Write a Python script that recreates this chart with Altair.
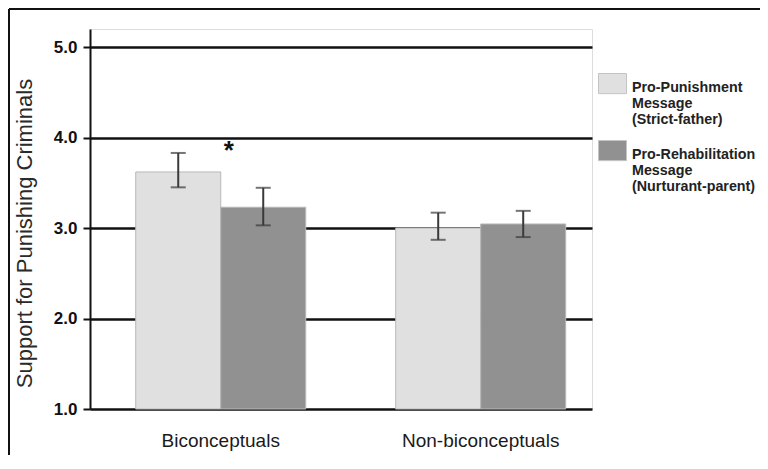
import altair as alt
import pandas as pd

groups = ["Biconceptuals", "Biconceptuals", "Non-biconceptuals", "Non-biconceptuals"]
messages = ["Pro-Punishment|Message|(Strict-father)", "Pro-Rehabilitation|Message|(Nurturant-parent)"]
message_col = [messages[0], messages[1], messages[0], messages[1]]
means = [3.62, 3.23, 3.00, 3.045]
lows = [3.45, 3.03, 2.87, 2.90]
highs = [3.83, 3.445, 3.17, 3.19]
y_ticks = [1, 2, 3, 4, 5]

df = pd.DataFrame({"group": groups, "message": message_col, "mean": means, "lo": lows, "hi": highs})
star_df = pd.DataFrame({"group": ["Biconceptuals"], "y": [3.76], "t": ["*"]})

FONT = "Liberation Sans"
TITLE = "Support for Punishing Criminals"

xenc = alt.X("group:N", title=None,
             scale=alt.Scale(paddingInner=0.346, paddingOuter=0.1385, align=0.635),
             axis=alt.Axis(labelFont=FONT, labelFontSize=19, labelColor="#1a1a1a",
                           labelPadding=22, labelAngle=0, domain=False, ticks=False))
xoff = alt.XOffset("message:N", sort=messages, scale=alt.Scale(domain=messages, paddingInner=0, paddingOuter=0))
yscale = alt.Scale(domain=[1, 5.2], zero=False, nice=False)
yaxis = alt.Axis(values=y_ticks, format=".1f", labelFont=FONT, labelFontWeight="bold",
                 labelFontSize=17, labelColor="#111", labelPadding=6, tickSize=7, tickWidth=2,
                 tickColor="#111", domainColor="#111", domainWidth=2, grid=True,
                 gridColor="#111", gridWidth=2.5, titleFont=FONT, titleFontSize=22,
                 titleFontWeight="normal", titleColor="#2a2a2a", titleX=-66, titleY=204,
                 titleBaseline="middle", titleAngle=-90)

base = alt.Chart(df)

bars = base.mark_bar(stroke="#b8b8b8", strokeWidth=1).encode(
    x=xenc, xOffset=xoff,
    y=alt.Y("mean:Q", scale=yscale, axis=yaxis, title=TITLE),
    y2=alt.datum(1),
    color=alt.Color("message:N", sort=messages,
                    scale=alt.Scale(domain=messages, range=["#e0e0e0", "#919191"]),
                    legend=alt.Legend(title=None, orient="none", legendX=508, legendY=37,
                                      labelExpr="split(datum.label, '|')", labelFont=FONT,
                                      labelFontSize=14.3, labelFontWeight="bold", labelColor="#222",
                                      labelBaseline="top", labelLimit=300, labelOffset=5,
                                      symbolType="M-1,-0.5H1V0.94H-1Z", symbolSize=784,
                                      symbolStrokeColor="#c4c4c4", symbolStrokeWidth=1,
                                      symbolOpacity=1, rowPadding=5, padding=0)),
)

rules = base.mark_rule(color="#3a3a3a", strokeWidth=2).encode(
    x=xenc, xOffset=xoff,
    y=alt.Y("lo:Q", scale=yscale, title=TITLE), y2="hi:Q")

cap_lo = base.mark_tick(color="#3a3a3a", thickness=2, size=15).encode(
    x=xenc, xOffset=xoff, y=alt.Y("lo:Q", scale=yscale, title=TITLE))
cap_hi = base.mark_tick(color="#3a3a3a", thickness=2, size=15).encode(
    x=xenc, xOffset=xoff, y=alt.Y("hi:Q", scale=yscale, title=TITLE))

star = alt.Chart(star_df).mark_text(font=FONT, fontSize=26, fontWeight="bold", color="#111",
                                     baseline="alphabetic", dx=8).encode(
    x=xenc, y=alt.Y("y:Q", scale=yscale, title=TITLE), text="t:N")

one = pd.DataFrame({"a": [0]})
border_left = alt.Chart(one).mark_rule(color="#111", strokeWidth=2).encode(
    x=alt.value(-81), y=alt.value(-20), y2=alt.value(460))
border_top = alt.Chart(one).mark_rule(color="#111", strokeWidth=2).encode(
    x=alt.value(-81), x2=alt.value(700), y=alt.value(-20))

chart = alt.layer(bars, rules, cap_lo, cap_hi, star, border_left, border_top).properties(
    width=502, height=380,
    autosize=alt.AutoSizeParams(type="none"),
    padding={"left": 82, "top": 21, "right": 168, "bottom": 46},
).configure_view(stroke=None).configure(background="white")

chart.save("out.html", embed_options={"renderer": "svg", "actions": False})
